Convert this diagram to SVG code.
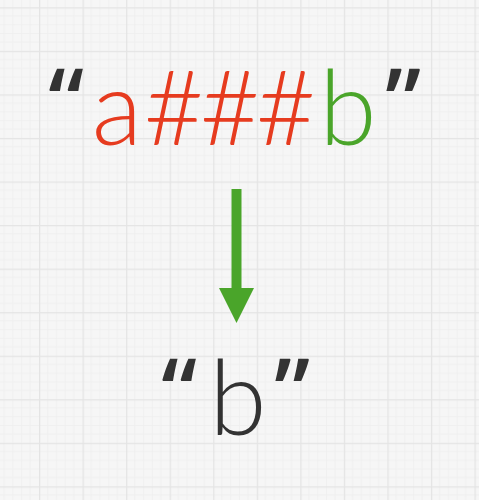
<svg xmlns="http://www.w3.org/2000/svg" width="479" height="500" viewBox="0 0 479 500">
<style>
.t{font-family:Lato,"Liberation Sans",sans-serif;font-size:104px;font-weight:300;text-anchor:middle}
.qq{font-family:"Open Sans",sans-serif;font-size:90px;font-weight:600;text-anchor:middle;fill:#333333}
.r{fill:#e63b1f}
.g{fill:#4aa52a}
.d{fill:#333333}
</style>
<defs>
<pattern id="grid" patternUnits="userSpaceOnUse" x="39" y="7.3" width="43.55" height="43.55">
<rect width="43.55" height="43.55" fill="#f6f6f6"/>
<path d="M8.71 0V43.55M17.42 0V43.55M26.13 0V43.55M34.84 0V43.55M0 8.71H43.55M0 17.42H43.55M0 26.13H43.55M0 34.84H43.55" stroke="#ededed" stroke-width="0.8" fill="none"/>
<path d="M0.5 0V43.55M0 0.5H43.55" stroke="#e4e4e4" stroke-width="1.5" fill="none"/>
</pattern>
</defs>
<rect width="479" height="500" fill="url(#grid)"/>
<g id="source">
<text class="qq" x="66" y="134">“</text>
<text class="t" y="145"><tspan class="r" x="117">a</tspan><tspan class="r" x="174">#</tspan><tspan class="r" x="230">#</tspan><tspan class="r" x="286">#</tspan><tspan class="g" x="348">b</tspan></text>
<text class="qq" x="403" y="134">”</text>
</g>
<g id="connectors">
<path d="M236.5 189V292" stroke="#4aa52a" stroke-width="10" fill="none"/>
<polygon points="219,288 254,288 236.5,323" fill="#4aa52a"/>
</g>
<g id="result">
<text class="qq" x="179" y="424">“</text>
<text class="t d" x="238" y="435">b</text>
<text class="qq" x="292" y="424">”</text>
</g>
</svg>
